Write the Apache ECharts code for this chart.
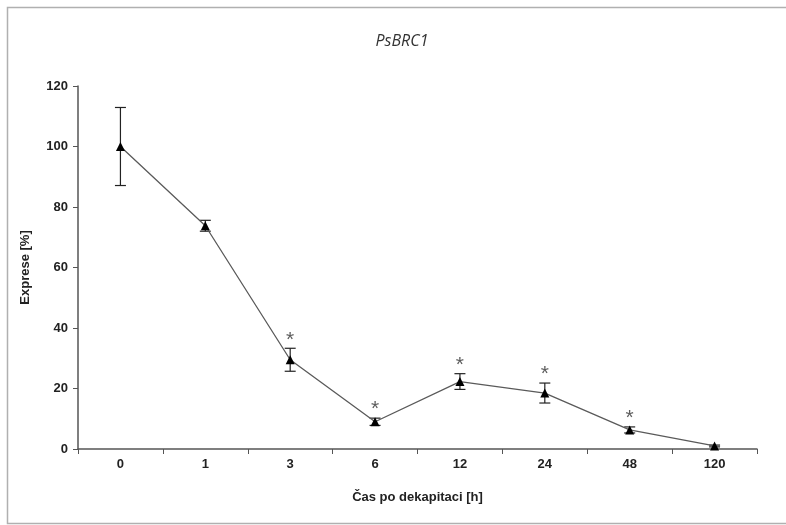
<!DOCTYPE html>
<html>
<head>
<meta charset="utf-8">
<script src="https://cdn.jsdelivr.net/npm/echarts@6/dist/echarts.min.js"></script>
<style>
html,body{margin:0;padding:0;background:#fff;}
#chart{width:786px;height:525px;}
</style>
</head>
<body>
<div id="chart"></div>
<script>
const categories = ['0', '1', '3', '6', '12', '24', '48', '120'];
const means = [100, 73.8, 29.5, 9, 22.3, 18.5, 6.3, 1];
const errors = [12.9, 1.8, 3.8, 1.2, 2.6, 3.3, 1, 0.3];
const significant = [false, false, true, true, true, true, true, false];
const titleText = 'PsBRC1';
const xName = 'Čas po dekapitaci [h]';
const yName = 'Exprese [%]';

const chart = echarts.init(document.getElementById('chart'));

const errData = categories.map((c, i) => [i, means[i] - errors[i], means[i] + errors[i]]);
const starData = [];
categories.forEach((c, i) => { if (significant[i]) starData.push([i, means[i] + errors[i]]); });

chart.setOption({
  animation: false,
  backgroundColor: '#fff',
  graphic: [{
    type: 'rect',
    shape: { x: 7.5, y: 7.5, width: 800, height: 516 },
    style: { fill: 'none', stroke: '#b0b0b0', lineWidth: 1.5 },
    z: -1
  }],
  title: {
    text: titleText,
    left: 397, top: 28, textAlign: 'center',
    textStyle: { fontFamily: 'Open Sans', fontStyle: 'italic', fontWeight: 'normal', fontSize: 16, color: '#333' }
  },
  grid: { left: 78, right: 29, top: 86, bottom: 76 },
  xAxis: {
    type: 'category',
    data: categories,
    boundaryGap: true,
    name: xName,
    nameLocation: 'middle',
    nameGap: 42,
    nameTextStyle: { fontFamily: 'Liberation Sans', fontWeight: 'bold', fontSize: 13, color: '#222' },
    axisLine: { lineStyle: { color: '#555', width: 1.5 } },
    axisTick: { show: true, length: 5, lineStyle: { color: '#555' } },
    axisLabel: { margin: 9, fontFamily: 'Liberation Sans', fontWeight: 'bold', fontSize: 13, color: '#222' },
    splitLine: { show: false }
  },
  yAxis: {
    type: 'value',
    min: 0, max: 120, interval: 20,
    name: yName,
    nameLocation: 'middle',
    nameGap: 46,
    nameRotate: 90,
    nameTextStyle: { fontFamily: 'Liberation Sans', fontWeight: 'bold', fontSize: 13, color: '#222' },
    axisLine: { show: true, lineStyle: { color: '#555', width: 1.5 } },
    axisTick: { show: true, length: 5, lineStyle: { color: '#555' } },
    axisLabel: { margin: 10, fontFamily: 'Liberation Sans', fontWeight: 'bold', fontSize: 13, color: '#222' },
    splitLine: { show: false }
  },
  series: [
    {
      type: 'line',
      data: means,
      symbol: 'triangle',
      symbolSize: 9,
      itemStyle: { color: '#000' },
      lineStyle: { color: '#5a5a5a', width: 1.3 },
      z: 3
    },
    {
      type: 'custom',
      data: errData,
      renderItem: function (params, api) {
        const x = api.value(0);
        const lo = api.coord([x, api.value(1)]);
        const hi = api.coord([x, api.value(2)]);
        const w = 5.5;
        const style = { stroke: '#222', lineWidth: 1.2 };
        return {
          type: 'group',
          children: [
            { type: 'line', shape: { x1: lo[0], y1: lo[1], x2: hi[0], y2: hi[1] }, style: style },
            { type: 'line', shape: { x1: lo[0] - w, y1: lo[1], x2: lo[0] + w, y2: lo[1] }, style: style },
            { type: 'line', shape: { x1: hi[0] - w, y1: hi[1], x2: hi[0] + w, y2: hi[1] }, style: style }
          ]
        };
      },
      z: 2
    },
    {
      type: 'scatter',
      data: starData,
      symbolSize: 0,
      label: {
        show: true, position: 'top', distance: -2,
        formatter: '*',
        fontFamily: 'Liberation Sans', fontSize: 21, color: '#333'
      },
      silent: true
    }
  ]
});
</script>
</body>
</html>
